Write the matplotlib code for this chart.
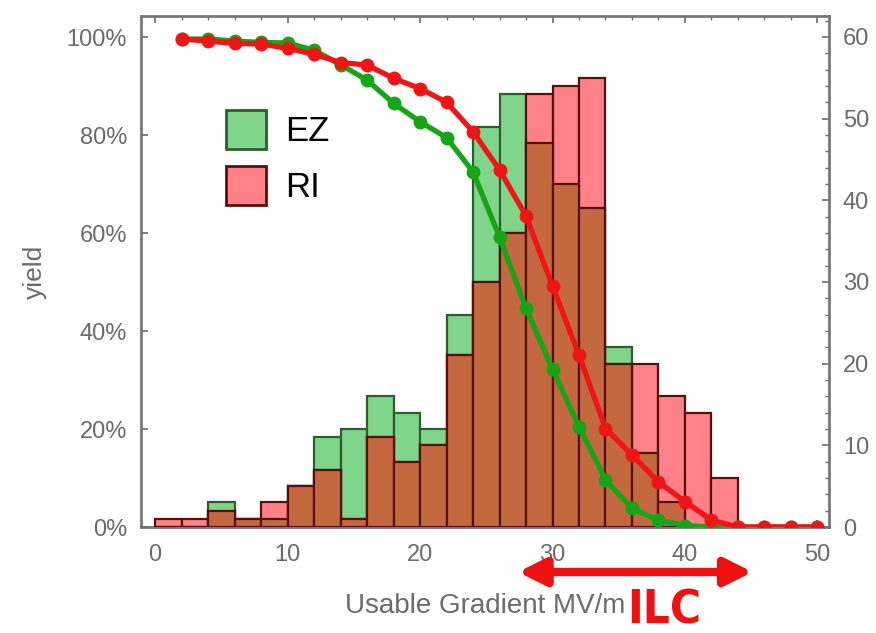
import numpy as np
import matplotlib
matplotlib.use('Agg')
import matplotlib.pyplot as plt
from matplotlib.patches import Patch
from matplotlib.ticker import MultipleLocator, PercentFormatter

plt.rcParams['font.family'] = ['Liberation Sans', 'DejaVu Sans']

# histogram: 2 MV/m bins starting at 0
bin_left = np.arange(0, 44, 2)
ez_counts = [0, 0, 3, 1, 1, 5, 11, 12, 16, 14, 12, 26, 49, 53, 47, 42, 39, 22, 9, 3, 0, 0]
ri_counts = [1, 1, 2, 1, 3, 5, 7, 1, 11, 8, 10, 21, 30, 36, 53, 54, 55, 20, 20, 16, 14, 6]

# yield curves (percent) at each gradient
grad = np.arange(2, 52, 2)
ez_yield = [99.6, 99.6, 99.2, 98.9, 98.8, 97.3, 94.4, 91.2, 86.5, 82.7, 79.5, 72.5, 59.2,
            44.6, 32.2, 20.5, 9.6, 3.8, 1.4, 0.3, 0, 0, 0, 0, 0]
ri_yield = [99.6, 99.2, 98.7, 98.6, 97.7, 96.5, 94.8, 94.3, 91.6, 89.5, 86.7, 80.7, 72.9,
            63.5, 49.2, 35.1, 20.1, 14.7, 9.2, 5.2, 1.4, 0, 0, 0, 0]

gray = '#6b6b6b'
green_face = '#7fd68a'
green_edge = '#2e5e2e'
pink_face = '#ff8288'
brown_face = '#c4683f'
red_edge = '#5a0f0f'

fig = plt.figure(figsize=(8.76, 6.33), dpi=100)
ax = fig.add_axes([141/876, 1-527/633, (829-141)/876, (527-16)/633])

ez = np.array(ez_counts)
ri = np.array(ri_counts)
ax.bar(bin_left, ez, width=2, align='edge', color=green_face, edgecolor=green_edge, lw=1.6, zorder=2)
ax.bar(bin_left, ri, width=2, align='edge', color=pink_face, edgecolor=red_edge, lw=1.6, zorder=3)
ax.bar(bin_left, np.minimum(ez, ri), width=2, align='edge', color=brown_face, edgecolor=red_edge, lw=1.6, zorder=4)

ax2 = ax.twinx()
ax2.plot(grad, np.array(ez_yield) / 100, color='#16a516', lw=3.8, marker='o', ms=9, zorder=5)
ax2.plot(grad, np.array(ri_yield) / 100, color='#f01414', lw=3.8, marker='o', ms=9, zorder=6)

# counts on the right, yield on the left
ax.set_xlim(-1.06, 50.87)
ax.set_ylim(0, 62.57)
ax.yaxis.tick_right()
ax.yaxis.set_major_locator(MultipleLocator(10))
ax.yaxis.set_minor_locator(MultipleLocator(2))
ax.xaxis.set_major_locator(MultipleLocator(10))
ax.xaxis.set_minor_locator(MultipleLocator(2))
ax.tick_params(axis='both', which='both', direction='in', colors=gray, labelsize=17,
               top=True, bottom=True, left=False, right=True, labelleft=False, labelright=True)
ax.tick_params(which='major', length=5, width=1.2)
ax.tick_params(which='minor', length=3, width=1.0)
ax.tick_params(axis='y', pad=10)
ax.tick_params(axis='x', pad=12)
for s in ax.spines.values():
    s.set_color('#777777')
    s.set_linewidth(2)
ax.set_xlabel('Usable Gradient MV/m', color=gray, fontsize=20, labelpad=20)

ax2.set_ylim(0, 1.043)
ax2.yaxis.tick_left()
ax2.yaxis.set_label_position('left')
ax2.yaxis.set_major_locator(MultipleLocator(0.2))
ax2.yaxis.set_major_formatter(PercentFormatter(1.0, decimals=0))
ax2.tick_params(axis='y', direction='in', colors=gray, labelsize=17, length=5, width=1.2, pad=10,
                right=False, labelright=False)
ax2.set_ylabel('yield', color=gray, fontsize=19, labelpad=14)
for s in ax2.spines.values():
    s.set_visible(False)

handles = [Patch(facecolor=green_face, edgecolor=green_edge, lw=2, label='EZ'),
           Patch(facecolor=pink_face, edgecolor=red_edge, lw=2, label='RI')]
ax2.legend(handles=handles, loc='upper left', bbox_to_anchor=(226/876, 1-110/633),
           bbox_transform=fig.transFigure, frameon=False, fontsize=25, borderpad=0,
           handlelength=1.15, handleheight=1.35, handletextpad=0.55, labelspacing=0.5,
           borderaxespad=0)

# ILC range arrow below the axis
ax.annotate('', xy=(45.1, 1-572/633), xytext=(27.4, 1-572/633),
            xycoords=('data', 'figure fraction'), textcoords=('data', 'figure fraction'),
            arrowprops=dict(arrowstyle='<|-|>', color='#f01010', lw=6, mutation_scale=40,
                            shrinkA=0, shrinkB=0), annotation_clip=False)
fig.text(664/876, 1-611/633, 'ILC', ha='center', va='center', color='#f01010', fontsize=34,
         fontweight='bold', fontstretch='condensed', family=['DejaVu Sans'])

fig.savefig('out.png', dpi=100)
